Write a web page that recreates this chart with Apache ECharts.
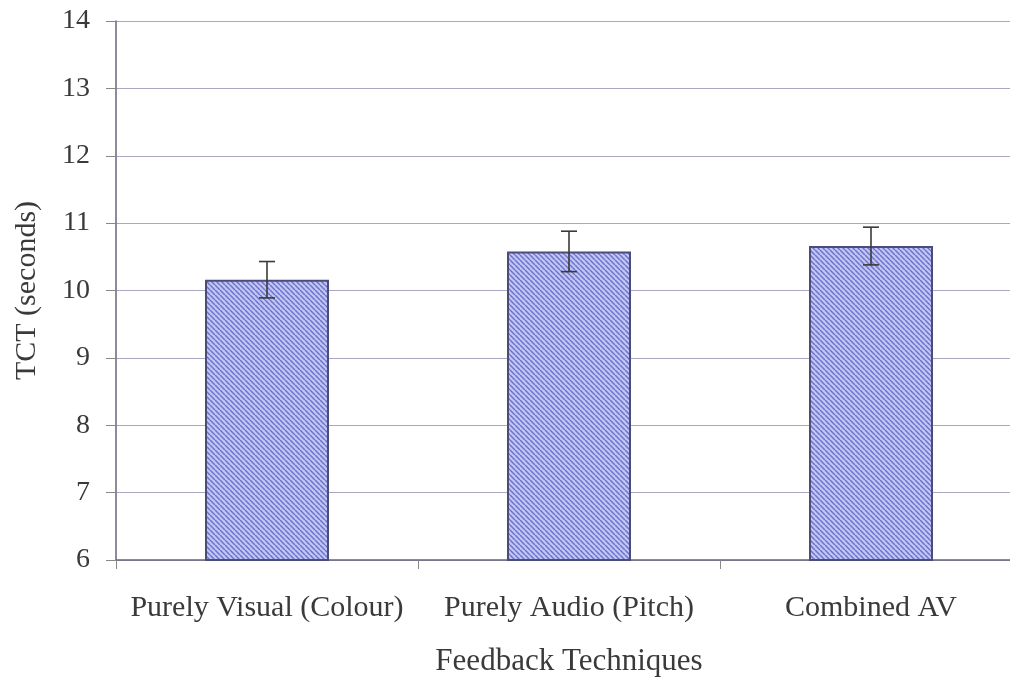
<!DOCTYPE html>
<html><head><meta charset="utf-8">
<script src="https://cdn.jsdelivr.net/npm/echarts@6/dist/echarts.min.js"></script>
<style>html,body{margin:0;padding:0;background:#fff}#c{width:1010px;height:689px}</style>
</head><body><div id="c"></div>
<script>
var categories = ['Purely Visual (Colour)', 'Purely Audio (Pitch)', 'Combined AV'];
var meanTCT = [10.16, 10.58, 10.66];
var errTCT = [0.27, 0.30, 0.28];
var yTicks = [6, 7, 8, 9, 10, 11, 12, 13, 14];

var pc = document.createElement('canvas');
pc.width = 5; pc.height = 5;
var g = pc.getContext('2d');
g.fillStyle = '#c2c6f4'; g.fillRect(0, 0, 5, 5);
g.strokeStyle = '#6c72cc'; g.lineWidth = 1.5;
for (var k = -10; k <= 10; k += 5) {
  g.beginPath(); g.moveTo(k, 0); g.lineTo(k + 5, 5); g.stroke();
}

var font = '"Liberation Serif", "Times New Roman", serif';
var chart = echarts.init(document.getElementById('c'));
chart.setOption({
  backgroundColor: '#ffffff',
  animation: false,
  grid: { left: 116, right: -12, top: 21, bottom: 129, containLabel: false, outerBoundsMode: 'none' },
  xAxis: {
    type: 'category', data: categories,
    name: 'Feedback Techniques', nameLocation: 'middle', nameGap: 86,
    nameTextStyle: { fontFamily: font, fontSize: 31, color: '#3a3a3a' },
    axisLine: { lineStyle: { color: '#66667a', width: 1.5 } },
    axisTick: { show: true, length: 9, lineStyle: { color: '#888' } },
    axisLabel: { fontFamily: font, fontSize: 30, color: '#3a3a3a', margin: 33, interval: 0 }
  },
  yAxis: {
    type: 'value', min: yTicks[0], max: yTicks[yTicks.length - 1], interval: 1,
    name: 'TCT (seconds)', nameLocation: 'middle', nameGap: 74,
    nameTextStyle: { fontFamily: font, fontSize: 30, color: '#3a3a3a' },
    axisLine: { show: true, lineStyle: { color: '#66667a', width: 1.5 } },
    axisTick: { show: true, length: 10, lineStyle: { color: '#888' } },
    axisLabel: { fontFamily: font, fontSize: 28, color: '#3a3a3a', margin: 26 },
    splitLine: { lineStyle: { color: '#a8a8c4', width: 1.2 } }
  },
  series: [
    {
      type: 'bar', data: meanTCT, barWidth: 124,
      itemStyle: { color: { image: pc, repeat: 'repeat' }, borderColor: '#4c4c78', borderWidth: 2 }
    },
    {
      type: 'custom',
      data: meanTCT.map(function (v, i) { return [i, v - errTCT[i], v + errTCT[i]]; }),
      renderItem: function (params, api) {
        var lo = api.coord([api.value(0), api.value(1)]);
        var hi = api.coord([api.value(0), api.value(2)]);
        var w = 8;
        var st = { stroke: '#3a3a3a', lineWidth: 1.6 };
        return { type: 'group', children: [
          { type: 'line', shape: { x1: hi[0], y1: hi[1], x2: lo[0], y2: lo[1] }, style: st },
          { type: 'line', shape: { x1: hi[0] - w, y1: hi[1], x2: hi[0] + w, y2: hi[1] }, style: st },
          { type: 'line', shape: { x1: lo[0] - w, y1: lo[1], x2: lo[0] + w, y2: lo[1] }, style: st }
        ]};
      },
      z: 10
    }
  ]
});
</script></body></html>
